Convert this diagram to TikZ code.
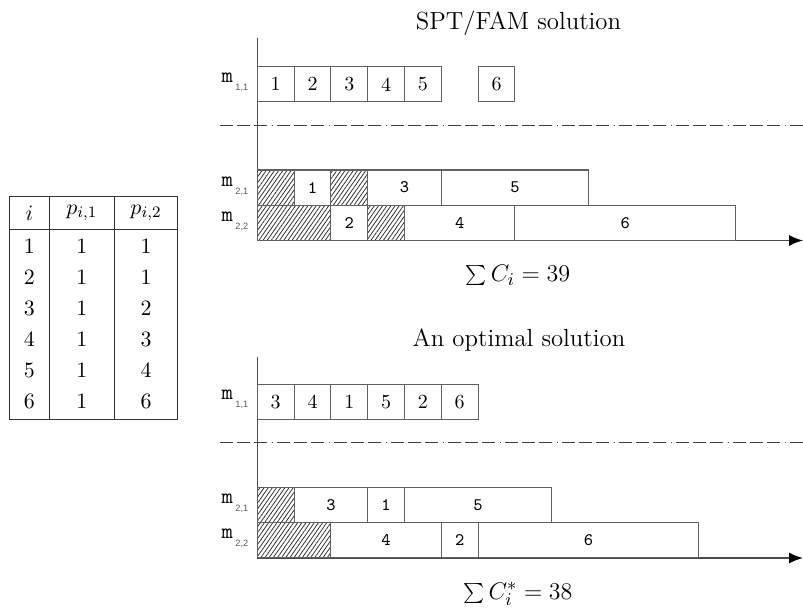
\documentclass[tikz,border=0pt]{standalone}
\usepackage{fontspec}
\newfontfamily\labsans{Liberation Sans}
\usetikzlibrary{patterns.meta,arrows.meta}
\newcommand\jobnode[6]{\node[#5, minimum width={#3*18.4pt}, anchor=north west] (#1) at ({257.3+#2*36.8},#4) {#6};}
\newcommand\mlab[1]{{\ttfamily\fontsize{11}{12}\selectfont m}\hspace{1.2pt}\raisebox{-0.9ex}{\labsans\fontsize{4.6}{5}\selectfont\color{black!65}#1}}
\begin{document}
\begin{tikzpicture}[x=0.5pt,y=-0.5pt,
  box/.style={draw=black!62, line width=0.55pt, inner sep=0pt, outer sep=0pt, minimum height=17.6pt},
  sbox/.style={box, font=\fontsize{10}{12}\selectfont},
  tbox/.style={box, font=\ttfamily\fontsize{8.8}{10}\selectfont},
  hatchbox/.style={box, pattern={Lines[angle=55,distance=1.7pt,line width=0.4pt]}, pattern color=black!80},
  axis/.style={draw=black!70, line width=0.75pt},
  arrowtip/.style={-{Latex[length=7pt,width=5.5pt,color=black]}},
  sep/.style={draw=black!75, line width=0.6pt, dash pattern=on 6.5pt off 2.1pt on 6.5pt off 2.1pt on 6.5pt off 2.1pt on 0.6pt off 2.1pt},
  mlabel/.style={inner sep=0pt, anchor=center},
  title/.style={font=\fontsize{12.4}{15}\selectfont, anchor=base, inner sep=0pt},
  sumlab/.style={font=\fontsize{12.9}{15}\selectfont, anchor=base, inner sep=0pt},
  cell/.style={font=\fontsize{10.95}{13}\selectfont, inner sep=0pt, anchor=center},
  tline/.style={draw=black!80, line width=0.55pt}
]
\useasboundingbox (0,0) rectangle (803,610);

% ---------- table ----------
\draw[tline] (9.3,196.7) rectangle (177.7,419.3);
\draw[tline] (9.3,229.3) -- (177.7,229.3);
\draw[tline] (49.3,196.7) -- (49.3,419.3);
\draw[tline] (114.3,196.7) -- (114.3,419.3);
\node[cell] (hi) at (29.3,213) {$i$};
\node[cell] (h1) at (81.8,213) {$p_{i,1}$};
\node[cell] (h2) at (146,213) {$p_{i,2}$};
\foreach \i/\a/\b [count=\k from 0] in {1/1/1,2/1/1,3/1/2,4/1/3,5/1/4,6/1/6}{
  \node[cell] (ri\i) at (29.3,{246.7+\k*31}) {$\i$};
  \node[cell] (ra\i) at (81.8,{246.7+\k*31}) {$\a$};
  \node[cell] (rb\i) at (146,{246.7+\k*31}) {$\b$};
}

% ---------- top chart ----------
\node[title] (t1) at (518.5,30) {SPT/FAM solution};
\coordinate (ta) at (257.3,38.3);
\coordinate (to) at (257.3,240.5);
\coordinate (tx) at (803,240.5);
\draw[axis] (ta) -- (to);
\draw[axis,arrowtip] (to) -- (tx);
\coordinate (ts0) at (220,125.7);
\coordinate (ts1) at (803,125.7);
\draw[sep] (ts0) -- (ts1);
\node[mlabel] (tl11) at (235,82) {\mlab{1,1}};
\node[mlabel] (tl21) at (235,186) {\mlab{2,1}};
\node[mlabel] (tl22) at (235,221) {\mlab{2,2}};

\jobnode{ta1}{0}{1}{66.7}{sbox}{1}
\jobnode{ta2}{1}{1}{66.7}{sbox}{2}
\jobnode{ta3}{2}{1}{66.7}{sbox}{3}
\jobnode{ta4}{3}{1}{66.7}{sbox}{4}
\jobnode{ta5}{4}{1}{66.7}{sbox}{5}
\jobnode{ta6}{6}{1}{66.7}{sbox}{6}

\jobnode{tbh1}{0}{1}{170}{hatchbox}{}
\jobnode{tb1}{1}{1}{170}{tbox}{1}
\jobnode{tbh2}{2}{1}{170}{hatchbox}{}
\jobnode{tb3}{3}{2}{170}{tbox}{3}
\jobnode{tb5}{5}{4}{170}{tbox}{5}

\jobnode{tch1}{0}{2}{205.2}{hatchbox}{}
\jobnode{tc2}{2}{1}{205.2}{tbox}{2}
\jobnode{tch2}{3}{1}{205.2}{hatchbox}{}
\jobnode{tc4}{4}{3}{205.2}{tbox}{4}
\jobnode{tc6}{7}{6}{205.2}{tbox}{6}

\node[sumlab] (s1) at (518,281.5) {$\sum C_i = 39$};

% ---------- bottom chart ----------
\node[title] (t2) at (519,346.7) {An optimal solution};
\coordinate (ba) at (257.3,356.7);
\coordinate (bo) at (257.3,558);
\coordinate (bx) at (803,558);
\draw[axis] (ba) -- (bo);
\draw[axis,arrowtip] (bo) -- (bx);
\coordinate (bs0) at (220,442.5);
\coordinate (bs1) at (803,442.5);
\draw[sep] (bs0) -- (bs1);
\node[mlabel] (bl11) at (235,399.5) {\mlab{1,1}};
\node[mlabel] (bl21) at (235,503.5) {\mlab{2,1}};
\node[mlabel] (bl22) at (235,538.5) {\mlab{2,2}};

\jobnode{ba3}{0}{1}{384.2}{sbox}{3}
\jobnode{ba4}{1}{1}{384.2}{sbox}{4}
\jobnode{ba1}{2}{1}{384.2}{sbox}{1}
\jobnode{ba5}{3}{1}{384.2}{sbox}{5}
\jobnode{ba2}{4}{1}{384.2}{sbox}{2}
\jobnode{ba6}{5}{1}{384.2}{sbox}{6}

\jobnode{bbh1}{0}{1}{487.5}{hatchbox}{}
\jobnode{bb3}{1}{2}{487.5}{tbox}{3}
\jobnode{bb1}{3}{1}{487.5}{tbox}{1}
\jobnode{bb5}{4}{4}{487.5}{tbox}{5}

\jobnode{bch1}{0}{2}{522.7}{hatchbox}{}
\jobnode{bc4}{2}{3}{522.7}{tbox}{4}
\jobnode{bc2}{5}{1}{522.7}{tbox}{2}
\jobnode{bc6}{6}{6}{522.7}{tbox}{6}

\node[sumlab] (s2) at (518,599) {$\sum C_i^* = 38$};
\end{tikzpicture}
\end{document}
